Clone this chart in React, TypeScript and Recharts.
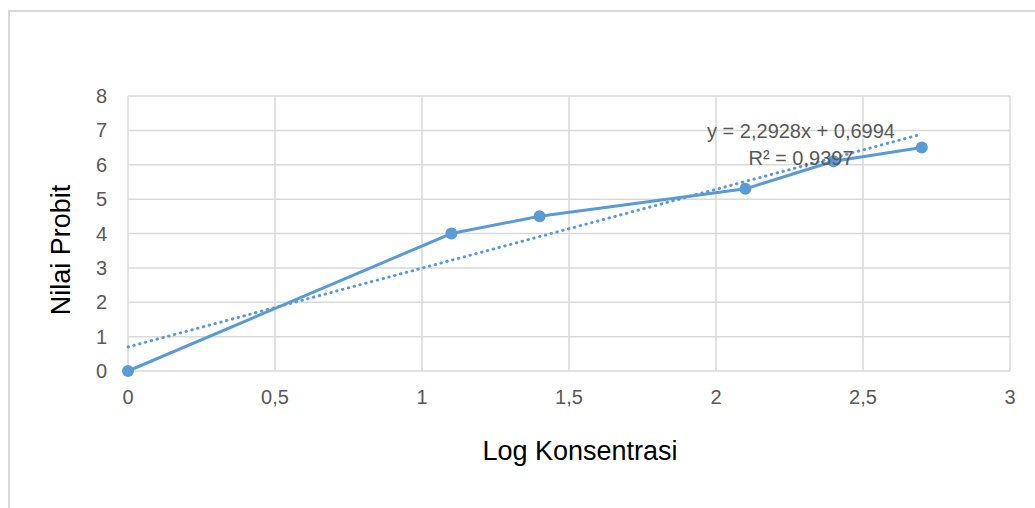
import { ScatterChart, Scatter, XAxis, YAxis, CartesianGrid } from 'recharts';

const logKonsentrasi = [0, 1.1, 1.4, 2.1, 2.4, 2.7];
const nilaiProbit = [0, 4.0, 4.5, 5.3, 6.1, 6.5];

// linear trendline endpoints (y = 2,2928x + 0,6994)
const trendX = [0, 2.7];
const trendY = [0.6994, 6.8900];

const xTicks = [0, 0.5, 1, 1.5, 2, 2.5, 3];
const yTicks = [0, 1, 2, 3, 4, 5, 6, 7, 8];
const equationLines = ['y = 2,2928x + 0,6994', 'R² = 0,9397'];

const BLUE = '#5b9bd5';
const GRID = '#d9d9d9';
const TEXT = '#595959';
const FONT = '"Liberation Sans", Arial, sans-serif';

const points = logKonsentrasi.map((x, i) => ({ x, y: nilaiProbit[i] }));
const trend = trendX.map((x, i) => ({ x, y: trendY[i] }));

const fmt = (v: number) => String(v).replace('.', ',');

export default function App() {
  return (
    <div style={{ position: 'absolute', left: 0, top: 0, width: 1035, height: 508, overflow: 'hidden', background: '#fff' }}>
      <div
        style={{
          position: 'absolute',
          left: 8,
          top: 10,
          width: 1100,
          height: 600,
          borderTop: `2px solid ${GRID}`,
          borderLeft: `2px solid ${GRID}`,
        }}
      />
      <div style={{ position: 'absolute', left: 0, top: 0 }}>
        <ScatterChart width={1035} height={508} margin={{ top: 96, right: 25, left: 0, bottom: 0 }}>
          <CartesianGrid stroke={GRID} strokeWidth={1.5} />
          <XAxis
            type="number"
            dataKey="x"
            domain={[0, 3]}
            ticks={xTicks}
            tickFormatter={fmt}
            axisLine={false}
            tickLine={false}
            tickMargin={13}
            height={137}
            tick={{ fill: TEXT, fontSize: 20, fontFamily: FONT }}
            label={{
              content: (props: any) => {
                const vb = props.viewBox;
                return (
                  <text x={vb.x + 452} y={460} textAnchor="middle" fontSize={27} fontFamily={FONT} fill="#000">
                    Log Konsentrasi
                  </text>
                );
              },
            }}
          />
          <YAxis
            type="number"
            dataKey="y"
            domain={[0, 8]}
            ticks={yTicks}
            axisLine={false}
            tickLine={false}
            tickMargin={15}
            width={128}
            tick={{ fill: TEXT, fontSize: 20, fontFamily: FONT }}
            label={{
              content: () => (
                <text
                  x={61}
                  y={250}
                  transform="rotate(-90 61 250)"
                  textAnchor="middle"
                  dominantBaseline="central"
                  fontSize={27}
                  fontFamily={FONT}
                  fill="#000"
                >
                  Nilai Probit
                </text>
              ),
            }}
          />
          <Scatter
            data={points}
            isAnimationActive={false}
            line={{ stroke: BLUE, strokeWidth: 3 }}
            fill={BLUE}
            shape={(p: any) => <circle cx={p.cx} cy={p.cy} r={6} fill={BLUE} />}
          />
          <Scatter
            data={trend}
            isAnimationActive={false}
            line={{ stroke: BLUE, strokeWidth: 3, strokeDasharray: '0.5 5.5', strokeLinecap: 'round' }}
            shape={() => <g />}
          />
        </ScatterChart>
      </div>
      <svg width={1035} height={508} style={{ position: 'absolute', left: 0, top: 0, pointerEvents: 'none' }}>
        {equationLines.map((t, i) => (
          <text key={t} x={801} y={138 + i * 27} textAnchor="middle" fontSize={20} fontFamily={FONT} fill={TEXT}>
            {t}
          </text>
        ))}
      </svg>
    </div>
  );
}
